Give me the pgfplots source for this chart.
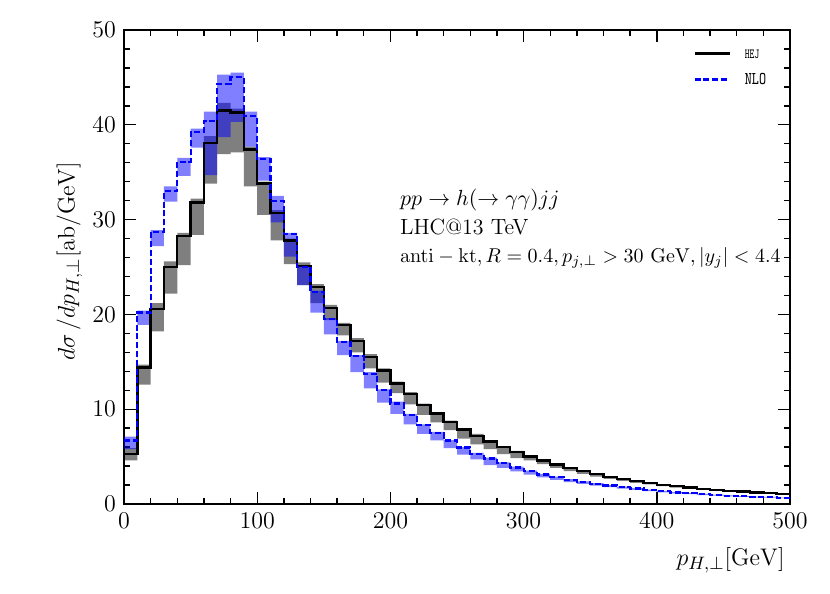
\documentclass[border=0pt]{standalone}
\usepackage{pgfplots}
\pgfplotsset{compat=1.18}
\usepackage{pgfplotstable}
\usepackage{graphicx}
\usepgfplotslibrary{fillbetween}

\pgfplotstableread{
x hc hl hh nc nl nh
0 5.3 4.6 5.9 6.7 5.8 7.1
10 14.4 12.6 14.7 20.2 18.9 20.4
20 20.6 18.2 21.2 28.7 27.2 28.9
30 25.0 22.2 25.6 33.0 31.9 33.5
40 28.3 25.2 28.6 36.1 34.6 36.5
50 31.8 28.4 32.2 39.2 37.6 39.6
60 38.1 33.8 38.8 40.4 34.7 41.4
70 41.5 36.9 42.3 44.3 38.7 45.3
80 41.3 37.1 41.7 45.0 40.3 45.5
90 37.4 33.5 37.7 40.9 37.7 41.4
100 33.8 30.5 34.0 36.4 34.1 36.6
110 30.7 27.8 31.0 32.0 29.7 32.5
120 27.8 25.3 28.0 28.5 26.1 28.6
130 25.1 23.1 25.5 25.0 23.1 25.1
140 22.9 21.2 23.2 22.4 20.2 22.5
150 20.7 19.4 21.0 19.5 17.9 19.6
160 18.9 17.8 19.1 17.1 15.7 17.2
170 17.2 16.0 17.5 15.6 13.9 15.7
180 15.5 14.3 15.8 13.7 12.2 13.9
190 14.1 12.8 14.3 12.0 10.7 12.1
200 12.7 11.7 12.9 10.6 9.5 10.8
210 11.6 10.5 11.8 9.4 8.4 9.5
220 10.45 9.4 10.6 8.3 7.4 8.4
230 9.55 8.6 9.7 7.45 6.7 7.6
240 8.65 7.8 8.8 6.7 5.9 6.75
250 7.85 6.9 8.0 5.95 5.2 6.0
260 7.2 6.3 7.4 5.3 4.7 5.4
270 6.6 5.8 6.7 4.8 4.1 4.9
280 6.0 5.25 6.1 4.3 3.8 4.4
290 5.5 4.85 5.6 3.85 3.45 3.95
300 5.03 4.6 5.13 3.45 3.1 3.52
310 4.6 4.2 4.7 3.12 2.8 3.18
320 4.18 3.82 4.27 2.83 2.55 2.89
330 3.8 3.48 3.88 2.57 2.32 2.62
340 3.45 3.17 3.52 2.34 2.12 2.39
350 3.15 2.9 3.22 2.14 1.94 2.19
360 2.88 2.65 2.94 1.96 1.78 2.0
370 2.63 2.43 2.69 1.79 1.63 1.83
380 2.42 2.24 2.47 1.63 1.49 1.67
390 2.22 2.06 2.27 1.48 1.36 1.52
400 2.03 1.89 2.08 1.35 1.24 1.38
410 1.87 1.74 1.91 1.22 1.12 1.25
420 1.73 1.61 1.77 1.12 1.03 1.15
430 1.6 1.49 1.64 1.03 0.95 1.06
440 1.49 1.39 1.53 0.95 0.88 0.98
450 1.39 1.3 1.42 0.88 0.81 0.9
460 1.3 1.22 1.33 0.82 0.76 0.84
470 1.22 1.14 1.25 0.77 0.71 0.79
480 1.15 1.08 1.18 0.72 0.67 0.74
490 1.08 1.01 1.11 0.66 0.61 0.68
500 1.08 1.01 1.11 0.66 0.61 0.68
}\datatable

\begin{document}
\begin{tikzpicture}
\begin{axis}[
  name=main,
  scale only axis,
  width=333pt, height=237pt,
  xmin=0, xmax=500, ymin=0, ymax=50,
  xtick={0,100,...,500}, ytick={0,10,...,50},
  minor x tick num=4, minor y tick num=4,
  tick align=inside,
  xtick pos=both, ytick pos=both,
  major tick length=6pt, minor tick length=3pt,
  axis line style={line width=0.75pt},
  every tick/.style={line width=0.7pt, black},
  tick label style={font=\fontsize{12.5}{14}\selectfont},
  xticklabel style={yshift=-1pt},
  yticklabel style={xshift=-0.5pt},
  xlabel={$p_{H,\perp}[\mathrm{GeV}]$},
  ylabel={$d\sigma\,/dp_{H,\perp}[\mathrm{ab}/\mathrm{GeV}]$},
  label style={inner sep=0pt},
  xlabel style={font=\fontsize{12.5}{14}\selectfont, at={(axis description cs:1,0)}, anchor=base east, yshift=-30.5pt, xshift=-2.5pt},
  ylabel style={font=\fontsize{12.5}{14}\selectfont, at={(axis description cs:-0.0818,0.5127)}, anchor=center},
  legend style={draw=none, fill=none, inner sep=0pt, at={(axis description cs:0.8544,0.966)}, anchor=north west,
    row sep=6pt, column sep=7pt, nodes={inner sep=0pt, text height=6pt, text depth=1pt}},
  legend cell align=left,
  legend image code/.code={\draw[#1] (0pt,0pt) -- (17.5pt,0pt);},
]
\addplot[name path=hl, const plot, draw=none, forget plot] table[x=x,y=hl]{\datatable};
\addplot[name path=hh, const plot, draw=none, forget plot] table[x=x,y=hh]{\datatable};
\addplot[fill=black, fill opacity=0.5, draw=none, forget plot] fill between[of=hl and hh];
\addplot[name path=nl, const plot, draw=none, forget plot] table[x=x,y=nl]{\datatable};
\addplot[name path=nh, const plot, draw=none, forget plot] table[x=x,y=nh]{\datatable};
\addplot[fill=blue, fill opacity=0.5, draw=none, forget plot] fill between[of=nl and nh];
\addplot[const plot, black, line width=1.2pt] table[x=x,y=hc]{\datatable};
\addlegendentry{\scalebox{0.65}[1]{\fontsize{7}{8}\selectfont\ttfamily HEJ}}
\addplot[const plot, blue, line width=1.1pt, dash pattern=on 3pt off 1.4pt] table[x=x,y=nc]{\datatable};
\addlegendentry{\scalebox{0.75}[1]{\fontsize{9}{10}\selectfont\ttfamily NLO}}
\node[anchor=base west, inner sep=0pt, font=\fontsize{11}{13}\selectfont] at (axis cs:207,31.5) {$pp\to h(\to\gamma\gamma)jj$};
\node[anchor=base west, inner sep=0pt, font=\fontsize{11}{13}\selectfont] at (axis cs:207,28.4) {LHC@13 TeV};
\node[anchor=base west, inner sep=0pt, font=\fontsize{10}{12}\selectfont] at (axis cs:207,25.5) {$\mathrm{anti-kt}, R = 0.4, p_{j,\perp} > 30\ \mathrm{GeV}, |y_j| < 4.4$};
\end{axis}
\path ([xshift=-62pt,yshift=-44.5pt]main.south west) rectangle ([xshift=20pt,yshift=15pt]main.north east);
\end{tikzpicture}
\end{document}
